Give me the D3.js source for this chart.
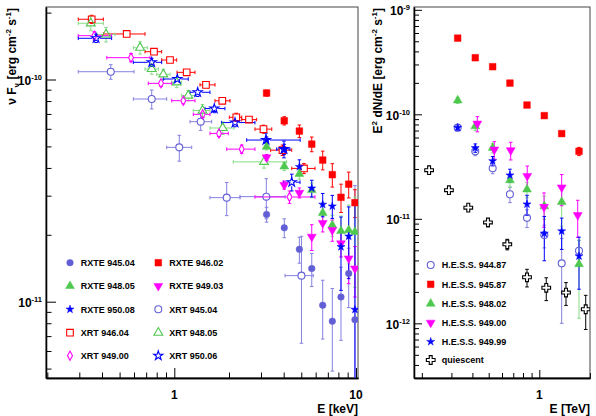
<!DOCTYPE html>
<html><head><meta charset="utf-8">
<script src="https://cdn.jsdelivr.net/npm/d3@7"></script>
<style>html,body{margin:0;padding:0;background:#fff;} svg{display:block;font-family:"Liberation Sans",Arial,Helvetica,sans-serif;font-weight:bold;}</style>
</head><body><svg id="c" width="596" height="416"></svg>
<script>
// ---------- LEFT PANEL DATA (E in keV, nuFnu in erg cm^-2 s^-1) ----------
const rxteE = [3.22, 4.03, 4.88, 5.71, 6.56, 7.41, 8.27, 9.12, 9.87];
const rxte945F = [2.47e-11, 2.15e-11, 1.72e-11, 1.41e-11, 9.64e-12, 8.17e-12, 1.05e-11, 1.34e-11, 8.3e-12];
const rxte945Err = [1.9e-12, 2.1e-12, 2.3e-12, 2.4e-12, 2.85e-12, 3.3e-12, 3.8e-12, 4.0e-12, 2.5e-11];
const rxte946F = [8.69e-11, 6.52e-11, 5.86e-11, 5.12e-11, 4.34e-11, 3.73e-11, 2.95e-11, 3.38e-11, 2.79e-11];
const rxte946Err = [2.7e-12, 2.8e-12, 3.8e-12, 3.9e-12, 4.2e-12, 4.5e-12, 4.3e-12, 4.5e-12, 4.0e-12];
const rxte948F = [4.98e-11, 4.06e-11, 3.76e-11, 3.18e-11, 2.51e-11, 2.21e-11, 2.08e-11, 2.10e-11, 2.06e-11];
const rxte948Err = [1.6e-12, 1.7e-12, 2.0e-12, 2.4e-12, 2.7e-12, 2.4e-12, 3.5e-12, 6.2e-12, 9.0e-12];
const rxte949F = [4.46e-11, 3.35e-11, 3.09e-11, 1.96e-11, 2.26e-11, 2.10e-11, 1.83e-11, 1.565e-11, 1.41e-11];
const rxte949Err = [1.4e-12, 1.4e-12, 1.6e-12, 2.6e-12, 2.0e-12, 2.3e-12, 2.4e-12, 3.6e-12, 3.6e-12];
const rxte950F = [5.34e-11, 4.85e-11, 4.05e-11, 3.24e-11, 2.74e-11, 2.69e-11, 1.765e-11, 1.97e-11, 9.22e-12];
const rxte950Err = [1.7e-12, 2.6e-12, 3.0e-12, 2.8e-12, 3.3e-12, 3.2e-12, 6.4e-12, 7.0e-12, 1.94e-11];

const xrt945E = [0.447, 0.751, 1.065, 1.397, 1.943, 3.21, 5.01];
const xrt945Elo = [0.296, 0.595, 0.908, 1.22, 1.572, 2.30, 4.07];
const xrt945Ehi = [0.600, 0.908, 1.247, 1.606, 2.30, 4.07, 5.82];
const xrt945F = [1.084e-10, 8.17e-11, 4.95e-11, 6.46e-11, 2.94e-11, 2.97e-11, 1.31e-11];
const xrt945Err = [8.2e-12, 8.0e-12, 6.6e-12, 5.6e-12, 5.0e-12, 6.1e-12, 6.6e-12];

const xrt946E = [0.351, 0.547, 0.773, 0.947, 1.170, 1.494, 1.837, 2.194, 2.577, 3.097, 3.940, 5.174];
const xrt946Elo = [0.296, 0.407, 0.690, 0.852, 1.035, 1.385, 1.675, 2.008, 2.35, 2.78, 3.39, 4.43];
const xrt946Ehi = [0.407, 0.690, 0.852, 1.031, 1.300, 1.675, 2.026, 2.35, 2.84, 3.44, 4.43, 5.95];
const xrt946F = [1.867e-10, 1.603e-10, 1.334e-10, 1.224e-10, 1.077e-10, 9.46e-11, 8.02e-11, 6.76e-11, 6.60e-11, 5.98e-11, 4.81e-11, 3.98e-11];
const xrt946Err = [7.9e-12, 5.1e-12, 4.2e-12, 3.9e-12, 3.4e-12, 3.0e-12, 2.5e-12, 2.9e-12, 2.1e-12, 2.5e-12, 2.6e-12, 2.1e-12];

const xrt948E = [0.347, 0.421, 0.648, 0.751, 0.870, 1.031, 1.194, 1.43, 1.847, 3.117];
const xrt948Elo = [0.296, 0.374, 0.595, 0.690, 0.80, 0.968, 1.098, 1.272, 1.572, 2.112];
const xrt948Ehi = [0.407, 0.472, 0.710, 0.817, 0.947, 1.098, 1.30, 1.572, 2.131, 4.156];
const xrt948F = [1.791e-10, 1.595e-10, 1.39e-10, 1.115e-10, 1.055e-10, 9.71e-11, 8.47e-11, 7.25e-11, 6.05e-11, 4.26e-11];
const xrt948Err = [1.35e-11, 1.2e-11, 8.9e-12, 5.9e-12, 5.6e-12, 5.2e-12, 4.5e-12, 4.7e-12, 3.9e-12, 2.7e-12];

const xrt949E = [0.363, 0.578, 0.845, 1.121, 1.433, 1.762, 2.349, 4.306];
const xrt949Elo = [0.296, 0.425, 0.719, 0.968, 1.272, 1.572, 1.943, 2.78];
const xrt949Ehi = [0.452, 0.735, 0.968, 1.30, 1.572, 1.982, 2.78, 5.95];
const xrt949F = [1.575e-10, 1.254e-10, 9.61e-11, 8.03e-11, 6.97e-11, 5.72e-11, 4.86e-11, 2.96e-11];
const xrt949Err = [6.7e-12, 5.3e-12, 3.0e-12, 2.5e-12, 2.2e-12, 1.8e-12, 2.1e-12, 1.9e-12];

const xrt950E = [0.371, 0.751, 1.039, 1.345, 1.66, 2.158, 3.196, 4.015, 4.43];
const xrt950Elo = [0.296, 0.595, 0.870, 1.22, 1.475, 1.823, 2.503, 3.66, 3.98];
const xrt950Ehi = [0.452, 0.852, 1.194, 1.572, 1.90, 2.78, 4.93, 4.33, 4.92];
const xrt950F = [1.533e-10, 1.195e-10, 1.005e-10, 8.76e-11, 7.40e-11, 6.40e-11, 5.34e-11, 4.86e-11, 3.45e-11];
const xrt950Err = [6.5e-12, 5.1e-12, 3.2e-12, 3.7e-12, 3.1e-12, 2.7e-12, 4.0e-12, 4.2e-12, 3.0e-12];

// ---------- RIGHT PANEL DATA (E in TeV, E^2 dN/dE in erg cm^-2 s^-1) ----------
const hessE = [0.327, 0.416, 0.528, 0.669, 0.845, 1.071, 1.359, 1.723];
const hess944F = [7.46e-11, 4.43e-11, 3.05e-11, 1.72e-11, 1.022e-11, 6.99e-12, 3.75e-12, 4.95e-12];
const hess944Err = [5e-12, 4.1e-12, 3.5e-12, 2.9e-12, 1.96e-12, 1.72e-12, 2.75e-12, 1.23e-12];
const hess945F = [5.36e-10, 3.48e-10, 2.855e-10, 1.99e-10, 1.227e-10, 9.72e-11, 6.54e-11, 4.43e-11];
const hess945Err = [1.6e-11, 1.0e-11, 8e-12, 6e-12, 4e-12, 4e-12, 3e-12, 4e-12];
const hess948F = [1.36e-10, 7.68e-11, 4.77e-11, 2.34e-11, 1.91e-11, 1.32e-11, 1.45e-11, 3.69e-12];
const hess948Err = [9e-12, 7e-12, 5e-12, 3.3e-12, 3.2e-12, 3.3e-12, 6e-12, 2.57e-12];
const hess949E = [0.428, 0.540, 0.676, 0.848, 1.067, 1.359, 1.693];
const hess949F = [8.15e-11, 4.60e-11, 4.53e-11, 2.57e-11, 1.30e-11, 1.995e-11, 1.085e-11];
const hess949Err = [1.35e-11, 8.8e-12, 8.7e-12, 6.3e-12, 4.7e-12, 6.6e-12, 4.2e-12];
const hess950F = [7.46e-11, 4.77e-11, 3.58e-11, 2.615e-11, 1.381e-11, 7.25e-12, 7.63e-12, 4.40e-12];
const hess950Err = [5e-12, 4.4e-12, 3.7e-12, 3.7e-12, 3.0e-12, 3.28e-12, 2.53e-12, 2.28e-12];
const quiesE = [0.221, 0.290, 0.378, 0.495, 0.645, 0.845, 1.10, 1.442, 1.889];
const quiesF = [2.92e-11, 1.88e-11, 1.279e-11, 9.24e-12, 5.71e-12, 2.76e-12, 2.19e-12, 1.97e-12, 1.364e-12];
const quiesErr = [2e-12, 1.3e-12, 8.7e-13, 8.5e-13, 6.6e-13, 5.3e-13, 5.4e-13, 4.85e-13, 4.9e-13];

// ---------- labels ----------
const leftXTicks = ["1", "10"];
const leftYTicks = ["-11", "-10"];
const rightXTicks = ["1"];
const rightYTicks = ["-12", "-11", "-10", "-9"];

// ---------- styles ----------
const C = {slate:"#625ed6", slateBar:"#8581df", red:"#ff0000", green:"#4fc84f", greenBar:"#86dc86",
           magenta:"#ff00ff", blue:"#0000ff", black:"#000"};

const leftSeries = [
  {name:"XRT 945.04", E:xrt945E, Elo:xrt945Elo, Ehi:xrt945Ehi, F:xrt945F, err:xrt945Err, color:C.slate, bar:C.slateBar, m:"circle", fill:false},
  {name:"XRT 946.04", E:xrt946E, Elo:xrt946Elo, Ehi:xrt946Ehi, F:xrt946F, err:xrt946Err, color:C.red, bar:C.red, m:"square", fill:false},
  {name:"XRT 948.05", E:xrt948E, Elo:xrt948Elo, Ehi:xrt948Ehi, F:xrt948F, err:xrt948Err, color:C.green, bar:C.greenBar, m:"triangle", fill:false},
  {name:"XRT 949.00", E:xrt949E, Elo:xrt949Elo, Ehi:xrt949Ehi, F:xrt949F, err:xrt949Err, color:C.magenta, bar:C.magenta, m:"diamond", fill:false},
  {name:"XRT 950.06", E:xrt950E, Elo:xrt950Elo, Ehi:xrt950Ehi, F:xrt950F, err:xrt950Err, color:C.blue, bar:C.blue, m:"star", fill:false},
  {name:"RXTE 945.04", E:rxteE, F:rxte945F, err:rxte945Err, color:C.slate, bar:C.slateBar, m:"circle", fill:true},
  {name:"RXTE 946.02", E:rxteE, F:rxte946F, err:rxte946Err, color:C.red, bar:C.red, m:"square", fill:true},
  {name:"RXTE 948.05", E:rxteE, F:rxte948F, err:rxte948Err, color:C.green, bar:C.greenBar, m:"triangle", fill:true},
  {name:"RXTE 949.03", E:rxteE, F:rxte949F, err:rxte949Err, color:C.magenta, bar:C.magenta, m:"itriangle", fill:true},
  {name:"RXTE 950.08", E:rxteE, F:rxte950F, err:rxte950Err, color:C.blue, bar:C.blue, m:"star", fill:true}
];
const leftLegendOrder = ["RXTE 945.04","RXTE 946.02","RXTE 948.05","RXTE 949.03","RXTE 950.08","XRT 945.04","XRT 946.04","XRT 948.05","XRT 949.00","XRT 950.06"];

const rightSeries = [
  {name:"quiescent", E:quiesE, F:quiesF, err:quiesErr, color:C.black, bar:C.black, m:"cross", fill:false},
  {name:"H.E.S.S. 944.87", E:hessE, F:hess944F, err:hess944Err, color:C.slate, bar:C.slateBar, m:"circle", fill:false},
  {name:"H.E.S.S. 948.02", E:hessE, F:hess948F, err:hess948Err, color:C.green, bar:C.greenBar, m:"triangle", fill:true},
  {name:"H.E.S.S. 949.00", E:hess949E, F:hess949F, err:hess949Err, color:C.magenta, bar:C.magenta, m:"itriangle", fill:true},
  {name:"H.E.S.S. 949.99", E:hessE, F:hess950F, err:hess950Err, color:C.blue, bar:C.blue, m:"star", fill:true},
  {name:"H.E.S.S. 945.87", E:hessE, F:hess945F, err:hess945Err, color:C.red, bar:C.red, m:"square", fill:true}
];
const rightLegendOrder = ["H.E.S.S. 944.87","H.E.S.S. 945.87","H.E.S.S. 948.02","H.E.S.S. 949.00","H.E.S.S. 949.99","quiescent"];

// ---------- drawing ----------
const svg = d3.select("#c");
svg.append("rect").attr("width",596).attr("height",416).attr("fill","#fff");

function markerPath(m, fill){
  switch(m){
    case "circle": return {d:d3.symbol(d3.symbolCircle, fill?34:38)(), r:3.5};
    case "square": return {d:d3.symbol(d3.symbolSquare, 44)(), r:3.3};
    case "triangle": return {d:d3.symbol(d3.symbolTriangle, 34)(), r:3.5};
    case "itriangle": return {d:d3.symbol(d3.symbolTriangle, 34)(), r:3.5, rot:180};
    case "star": return {d:d3.symbol(d3.symbolStar, fill?20:26)(), r:4};
    case "diamond": return {d:"M0,-4.6L2.5,0L0,4.6L-2.5,0Z", r:3};
    case "cross": return {d:d3.symbol(d3.symbolCross, 42)(), r:4};
  }
}
function drawMarker(g, s, px, py){
  const mk = markerPath(s.m, s.fill);
  g.append("path").attr("d", mk.d)
    .attr("transform", `translate(${px},${py})` + (mk.rot ? ` rotate(${mk.rot})` : ""))
    .attr("fill", s.fill ? s.color : "none")
    .attr("stroke", s.color).attr("stroke-width", s.fill ? 0.5 : 1.1)
    .attr("stroke-linejoin","miter");
}

function panel(o){
  const x = d3.scaleLog().domain(o.xd).range([o.x0, o.x1]);
  const y = d3.scaleLog().domain(o.yd).range([o.y1, o.y0]);
  const g = svg.append("g");
  const cid = "clip" + o.id;
  svg.append("clipPath").attr("id", cid).append("rect")
    .attr("x", o.x0).attr("y", o.y0).attr("width", o.x1 - o.x0).attr("height", o.y1 - o.y0);

  // frame
  g.append("rect").attr("x", o.x0).attr("y", o.y0).attr("width", o.x1 - o.x0).attr("height", o.y1 - o.y0)
    .attr("fill", "none").attr("stroke", "#444").attr("stroke-width", 1);

  // ticks
  const inRange = (v, d) => v >= Math.min(...d) * 0.999 && v <= Math.max(...d) * 1.001;
  function minors(d, lo, hi){
    const out = [];
    for (let e = lo; e <= hi; e++) for (let k = 2; k <= 9; k++){ const v = k * Math.pow(10, e); if (inRange(v, d)) out.push(v); }
    return out;
  }
  const yMaj = o.yMajExp.map(e => Math.pow(10, e));
  const xMaj = o.xMajExp.map(e => Math.pow(10, e));
  const yMin = minors(o.yd, o.yMajExp[0] - 1, o.yMajExp[o.yMajExp.length - 1] + 1);
  const xMin = minors(o.xd, o.xMajExp[0] - 1, o.xMajExp[o.xMajExp.length - 1] + 1);

  const ax = [
    g.append("g").attr("transform", `translate(${o.x0},0)`).call(d3.axisLeft(y).tickValues(yMin).tickSize(-o.minLen).tickSizeOuter(0).tickFormat("")),
    g.append("g").attr("transform", `translate(${o.x0},0)`).call(d3.axisLeft(y).tickValues(yMaj).tickSize(-o.majLen).tickSizeOuter(0).tickFormat("")),
    g.append("g").attr("transform", `translate(0,${o.y1})`).call(d3.axisBottom(x).tickValues(xMin).tickSize(-o.minLen).tickSizeOuter(0).tickFormat("")),
    g.append("g").attr("transform", `translate(0,${o.y1})`).call(d3.axisBottom(x).tickValues(xMaj).tickSize(-o.majLen).tickSizeOuter(0).tickFormat(""))
  ];
  ax.forEach(a => { a.selectAll("path.domain").attr("stroke", "#000").attr("stroke-width", 1.3);
                    a.selectAll(".tick line").attr("stroke", "#000").attr("stroke-width", 1); });

  // y tick labels
  yMaj.forEach((v, i) => {
    const t = g.append("text").attr("x", o.x0 - 4).attr("y", y(v) + 5.5).attr("text-anchor", "end")
      .attr("font-size", 12).attr("fill", "#000");
    t.append("tspan").text("10");
    t.append("tspan").attr("dy", -5).attr("font-size", 7.5).text(o.yLabels[i]);
  });
  // x tick labels
  xMaj.forEach((v, i) => {
    g.append("text").attr("x", x(v)).attr("y", o.y1 + 20.5).attr("text-anchor", "middle")
      .attr("font-size", 12).attr("fill", "#000").text(o.xLabels[i]);
  });
  // x title
  g.append("text").attr("x", o.x1).attr("y", 413.2).attr("text-anchor", "end").attr("font-size", 12).text(o.xTitle);
  // y title
  const yt = g.append("text").attr("transform", `translate(${o.ytX},${o.y0 + 1}) rotate(-90)`)
    .attr("text-anchor", "end").attr("font-size", 12);
  o.yTitle.forEach(p => {
    const ts = yt.append("tspan").text(p.t);
    if (p.sup) ts.attr("dy", -4.5).attr("font-size", 8);
    if (p.sub) ts.attr("dy", 3).attr("font-size", 8);
    if (p.back) ts.attr("dy", p.back);
  });

  // data
  const dg = g.append("g").attr("clip-path", `url(#${cid})`);
  const cap = 1.8;
  o.series.forEach(s => {
    const mk = markerPath(s.m, s.fill);
    const gap = s.fill ? 0 : mk.r;
    s.E.forEach((e, i) => {
      const px = x(e), py = y(s.F[i]);
      const line = (x1, y1, x2, y2) => dg.append("line").attr("x1", x1).attr("y1", y1).attr("x2", x2).attr("y2", y2)
        .attr("stroke", s.bar).attr("stroke-width", 1);
      if (s.err){
        const hi = y(s.F[i] + s.err[i]);
        const loV = s.F[i] - s.err[i];
        const lo = loV > 0 ? y(loV) : o.y1 + 20;
        if (py - gap > hi) { line(px, py - gap, px, hi); line(px - cap, hi, px + cap, hi); }
        if (lo > py + gap) { line(px, py + gap, px, lo); line(px - cap, lo, px + cap, lo); }
      }
      if (s.Elo){
        const l = x(s.Elo[i]), r = x(s.Ehi[i]);
        if (px - gap > l) { line(l, py, px - gap, py); line(l, py - cap, l, py + cap); }
        if (r > px + gap) { line(px + gap, py, r, py); line(r, py - cap, r, py + cap); }
      }
    });
  });
  o.series.forEach(s => { s.E.forEach((e, i) => drawMarker(dg, s, x(e), y(s.F[i]))); });

  // legend
  o.legendOrder.forEach((name, i) => {
    const s = o.series.find(d => d.name === name);
    const col = o.legCols ? Math.floor(i / o.legRows.length) : 0;
    const row = i % o.legRows.length;
    const lx = o.legMarkX[col], ly = o.legRows[row];
    drawMarker(g, s, lx, ly);
    g.append("text").attr("x", o.legTextX[col]).attr("y", ly + 3.3).attr("font-size", 9).attr("fill", "#000").text(name);
  });
}

panel({
  id: "L", x0: 46, x1: 358, y0: 7, y1: 378, xd: [0.1967, 10.26], yd: [4.535e-12, 2.12e-10],
  yMajExp: [-11, -10], xMajExp: [0, 1], yLabels: leftYTicks, xLabels: leftXTicks,
  majLen: 10, minLen: 5.5, xTitle: "E [keV]", ytX: 15.5,
  yTitle: [{t:"\u03bd F"}, {t:"\u03bd", sub:true}, {t:" [erg cm", back:-3}, {t:"-2", sup:true}, {t:" s", back:4.5}, {t:"-1", sup:true}, {t:"]", back:4.5}],
  series: leftSeries,
  legendOrder: [0,2,4,6,8,1,3,5,7,9].map(k => leftLegendOrder[k]),
  legCols: 2, legRows: [262.7, 286, 309.3, 332.7, 355.7], legMarkX: [70, 158.3], legTextX: [80.7, 169.3]
});
panel({
  id: "R", x0: 414, x1: 590, y0: 7, y1: 378, xd: [0.1797, 2.003], yd: [3.0e-13, 1.064e-9],
  yMajExp: [-12, -11, -10, -9], xMajExp: [0], yLabels: rightYTicks, xLabels: rightXTicks,
  majLen: 8, minLen: 5, xTitle: "E [TeV]", ytX: 381.5,
  yTitle: [{t:"E"}, {t:"2", sup:true}, {t:" dN/dE [erg cm", back:4.5}, {t:"-2", sup:true}, {t:" s", back:4.5}, {t:"-1", sup:true}, {t:"]", back:4.5}],
  series: rightSeries,
  legendOrder: rightLegendOrder,
  legCols: 0, legRows: [265, 284.3, 303.7, 322.7, 341.7, 360], legMarkX: [430.7], legTextX: [441.7]
});
</script></body></html>
